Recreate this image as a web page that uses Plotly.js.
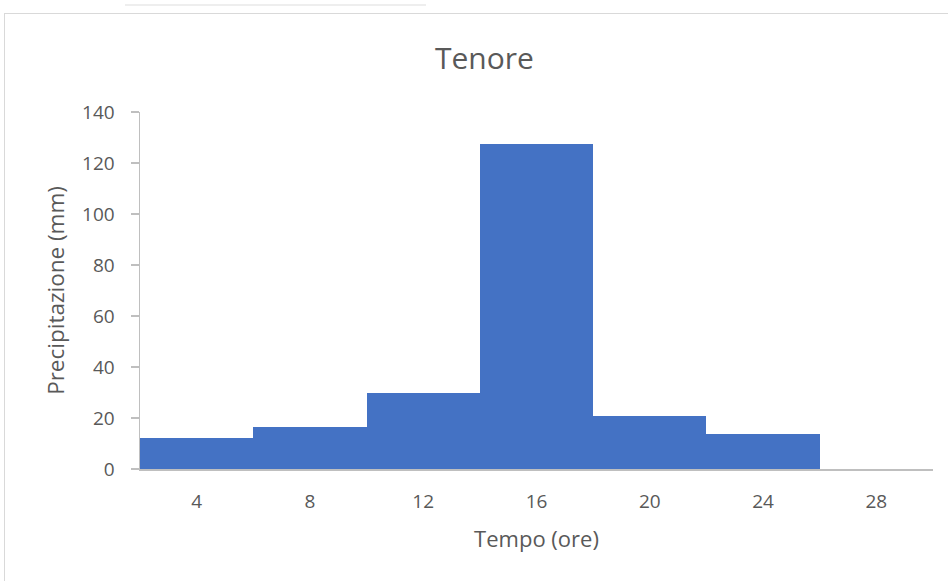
<!DOCTYPE html>
<html>
<head>
<meta charset="utf-8">
<script src="https://cdn.plot.ly/plotly-3.0.1.min.js"></script>
<style>
  body { margin: 0; background: #ffffff; }
  #wrap { position: relative; width: 948px; height: 581px; overflow: hidden; }
  #frame { position: absolute; left: 4px; top: 13px; width: 960px; height: 580px; border: 1px solid #d9d9d9; box-sizing: border-box; }
  #topline { position: absolute; left: 125px; top: 4px; width: 301px; height: 2px; background: #eeeeee; }
  #chart { position: absolute; left: 0; top: 0; width: 948px; height: 581px; }
</style>
</head>
<body>
<div id="wrap">
  <div id="topline"></div>
  <div id="frame"></div>
  <div id="chart"></div>
</div>
<script>
// Tempo (ore) categories and precipitation values (mm)
const categories = ['4', '8', '12', '16', '20', '24', '28'];
const precipitation = [12, 16.5, 30, 127.4, 20.9, 13.7, 0];
const yTicks = [0, 20, 40, 60, 80, 100, 120, 140];

const textColor = '#595959';
const axisColor = '#bfbfbf';
const fontFamily = '"Open Sans", sans-serif';

const trace = {
    x: categories,
    y: precipitation,
    type: 'bar',
    marker: {
        color: '#4472c4',
        line: { width: 0 }
    },
    hoverinfo: 'x+y'
};

const layout = {
    width: 948,
    height: 581,
    margin: { l: 140, r: 15, t: 112, b: 112 },
    paper_bgcolor: 'rgba(0,0,0,0)',
    plot_bgcolor: 'rgba(0,0,0,0)',
    bargap: 0,
    showlegend: false,
    font: { family: fontFamily, color: textColor, size: 19 },
    title: {
        text: 'Tenore',
        font: { family: fontFamily, size: 30, color: textColor },
        xref: 'container', x: 0.511, xanchor: 'center',
        yref: 'container', y: 0.9, yanchor: 'middle'
    },
    xaxis: {
        type: 'category',
        showline: true,
        linecolor: axisColor,
        linewidth: 1.5,
        showgrid: false,
        zeroline: false,
        ticks: '',
        ticklabelstandoff: 15,
        tickfont: { size: 19, color: textColor },
        title: { text: 'Tempo (ore)', font: { size: 22, color: textColor }, standoff: 18 }
    },
    yaxis: {
        range: [0, 140],
        tickvals: yTicks,
        showline: true,
        linecolor: axisColor,
        linewidth: 1.5,
        showgrid: false,
        zeroline: false,
        ticks: 'outside',
        ticklen: 8,
        tickcolor: axisColor,
        tickwidth: 1.5,
        ticklabelstandoff: 12,
        tickfont: { size: 19, color: textColor },
        title: { text: 'Precipitazione (mm)', font: { size: 22.5, color: textColor }, standoff: 11 }
    }
};

Plotly.newPlot('chart', [trace], layout, { displayModeBar: false, staticPlot: true });
</script>
</body>
</html>
